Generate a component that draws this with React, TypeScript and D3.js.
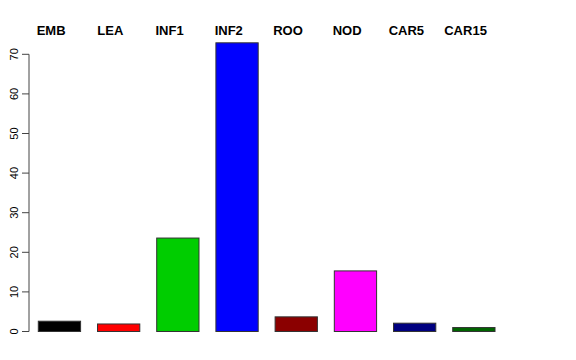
import React from "react";
import * as d3 from "d3";

const categories = ["EMB", "LEA", "INF1", "INF2", "ROO", "NOD", "CAR5", "CAR15"];
const values = [2.6, 1.9, 23.6, 72.9, 3.7, 15.3, 2.1, 1.0];
const colors = ["#000000", "#FF0000", "#00CD00", "#0000FF", "#8B0000", "#FF00FF", "#000080", "#006400"];
const yTicks = [0, 10, 20, 30, 40, 50, 60, 70];

export default function App() {
  const W = 576;
  const H = 360;
  const x = d3
    .scaleBand<string>()
    .domain(categories)
    .range([38.3, 495])
    .paddingInner(0.4 / 1.4)
    .paddingOuter(0);
  const y = d3.scaleLinear().domain([0, 70]).range([331.5, 54.3]);
  const axisX = 29;

  return (
    <svg
      width={W}
      height={H}
      style={{ position: "absolute", left: 0, top: 0, background: "#fff" }}
      fontFamily="'Liberation Sans', Arial, Helvetica, sans-serif"
    >
      <rect x={0} y={0} width={W} height={H} fill="#fff" />
      {categories.map((c, i) => (
        <rect
          key={c}
          x={x(c)!}
          y={y(values[i])}
          width={x.bandwidth()}
          height={y(0) - y(values[i])}
          fill={colors[i]}
          stroke="#333"
          strokeWidth={1}
        />
      ))}
      {categories.map((c) => (
        <text
          key={"l" + c}
          x={x(c)! + x.bandwidth() / 2 - 8.3}
          y={35}
          textAnchor="middle"
          fontWeight="bold"
          fontSize={13}
          fill="#000"
        >
          {c}
        </text>
      ))}
      <line x1={axisX} x2={axisX} y1={y(0)} y2={y(70)} stroke="#444" strokeWidth={1} />
      {yTicks.map((t) => (
        <g key={"t" + t}>
          <line x1={axisX - 7} x2={axisX} y1={y(t)} y2={y(t)} stroke="#444" strokeWidth={1} />
          <text
            transform={`translate(17.5,${y(t)}) rotate(-90)`}
            textAnchor="middle"
            fontSize={11}
            fill="#000"
          >
            {t}
          </text>
        </g>
      ))}
    </svg>
  );
}
